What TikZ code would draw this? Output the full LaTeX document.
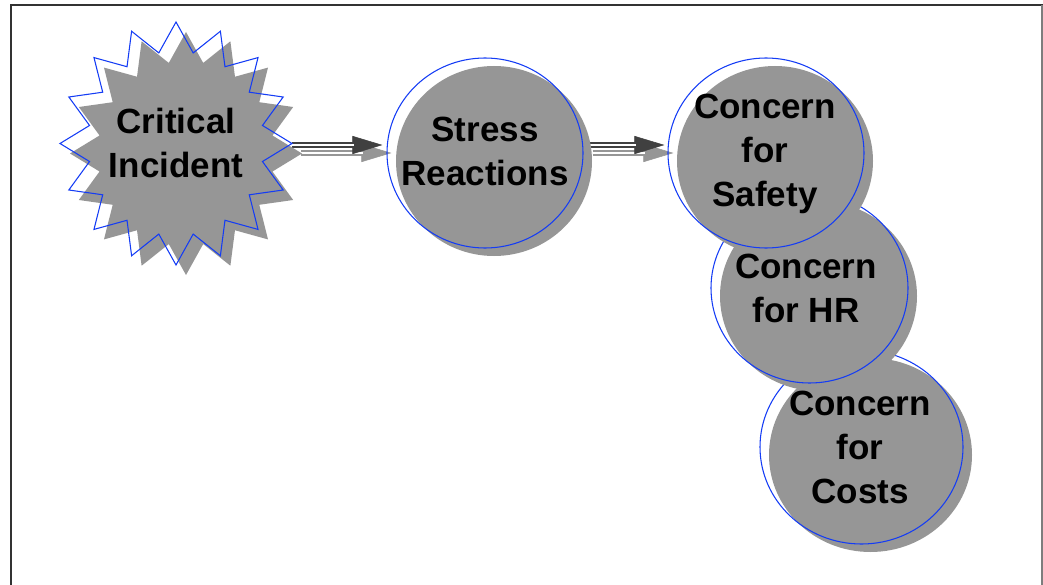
\documentclass[tikz,border=0pt]{standalone}
\usepackage{fontspec}
\setmainfont{Liberation Sans}
\usetikzlibrary{arrows.meta,shapes.geometric}
\definecolor{shapegray}{RGB}{150,150,150}
\definecolor{outlineblue}{RGB}{20,60,245}
\definecolor{arrowdark}{RGB}{64,64,64}
\definecolor{framedark}{RGB}{50,50,50}
\definecolor{framegray}{RGB}{125,125,125}
\pgfdeclarelayer{back}
\pgfsetlayers{back,main}
\tikzset{
  bubble/.style={ellipse, draw=outlineblue, line width=0.8pt, inner sep=0pt},
  ghost/.style={ellipse, inner sep=0pt},
  lbl/.style={font=\bfseries\fontsize{26.25pt}{33pt}\selectfont, align=center, inner sep=0pt, text=black, text depth=0pt},
  shadowfill/.style={fill=shapegray},
  tiphead/.style={line width=0.4pt, -{Triangle[length=22.5pt,width=13.5pt]}},
  dblline/.style={line width=1.5pt, double=white, double distance=1.2pt},
}
\begin{document}
\begin{tikzpicture}[x=0.75pt,y=-0.75pt]
\useasboundingbox (0,0) rectangle (1043,585);
% frame
\draw[framedark, line width=1.5pt] (11,585) -- (11,5.5) -- (1043,5.5);
\draw[framegray, line width=1.2pt] (1042,5.5) -- (1042,585);

% Critical Incident starburst
\fill[shadowfill] plot[samples at={0,...,31}, variable=\k]
  ({186+116*(1-0.24*mod(\k,2))*cos(90+11.25*\k)}, {153.5-121.5*(1-0.24*mod(\k,2))*sin(90+11.25*\k)}) -- cycle;
\draw[outlineblue, line width=0.8pt] plot[samples at={0,...,31}, variable=\k]
  ({176+116*(1-0.24*mod(\k,2))*cos(90+11.25*\k)}, {143.5-121.5*(1-0.24*mod(\k,2))*sin(90+11.25*\k)}) -- cycle;
\node[ghost, minimum width=174pt, minimum height=182.25pt] (incident) at (176,143.5) {};

% Stress Reactions
\fill[shadowfill] (494,161) ellipse [x radius=98, y radius=95];
\node[bubble, minimum width=147pt, minimum height=142.5pt] (stress) at (485,153) {};

% Concern for Costs
\fill[shadowfill] (870.5,455) ellipse [x radius=101.5, y radius=97];
\node[bubble, minimum width=152.25pt, minimum height=145.5pt] (costs) at (861.5,447) {};

% Concern for HR
\fill[shadowfill] (818.5,296) ellipse [x radius=98.5, y radius=95];
\node[bubble, minimum width=147.75pt, minimum height=142.5pt] (hr) at (809.5,288) {};

% Concern for Safety
\fill[shadowfill] (775,161) ellipse [x radius=98, y radius=95];
\node[bubble, minimum width=147pt, minimum height=142.5pt] (safety) at (766,153) {};

% labels
\node[lbl] (incident-t) at (176,142.5) {Critical\\Incident};
\node[lbl] (stress-t) at (485,151) {Stress\\Reactions};
\node[lbl] (safety-t) at (765,150) {Concern\\for\\Safety};
\node[lbl] (hr-t) at (806,288) {Concern\\for HR};
\node[lbl] (costs-t) at (860,447.5) {Concern\\for\\Costs};

% arrows (behind the shapes)
\coordinate (ay) at (0,145);
\begin{pgfonlayer}{back}
\begin{scope}[transform canvas={xshift=6.75pt,yshift=-6pt}]
\draw[shapegray, tiphead, shorten >=3pt] (incident.east |- ay) -- (stress.west |- ay);
\draw[shapegray, dblline, shorten >=24pt] (incident.east |- ay) -- (stress.west |- ay);
\draw[shapegray, tiphead, shorten >=2.25pt] (stress.east |- ay) -- (safety.west |- ay);
\draw[shapegray, dblline, shorten >=23.25pt] (stress.east |- ay) -- (safety.west |- ay);
\end{scope}
\draw[arrowdark, tiphead, shorten >=3pt] (incident.east |- ay) -- (stress.west |- ay);
\draw[arrowdark, dblline, shorten >=24pt] (incident.east |- ay) -- (stress.west |- ay);
\draw[arrowdark, tiphead, shorten >=2.25pt] (stress.east |- ay) -- (safety.west |- ay);
\draw[arrowdark, dblline, shorten >=23.25pt] (stress.east |- ay) -- (safety.west |- ay);
\end{pgfonlayer}
\end{tikzpicture}
\end{document}
